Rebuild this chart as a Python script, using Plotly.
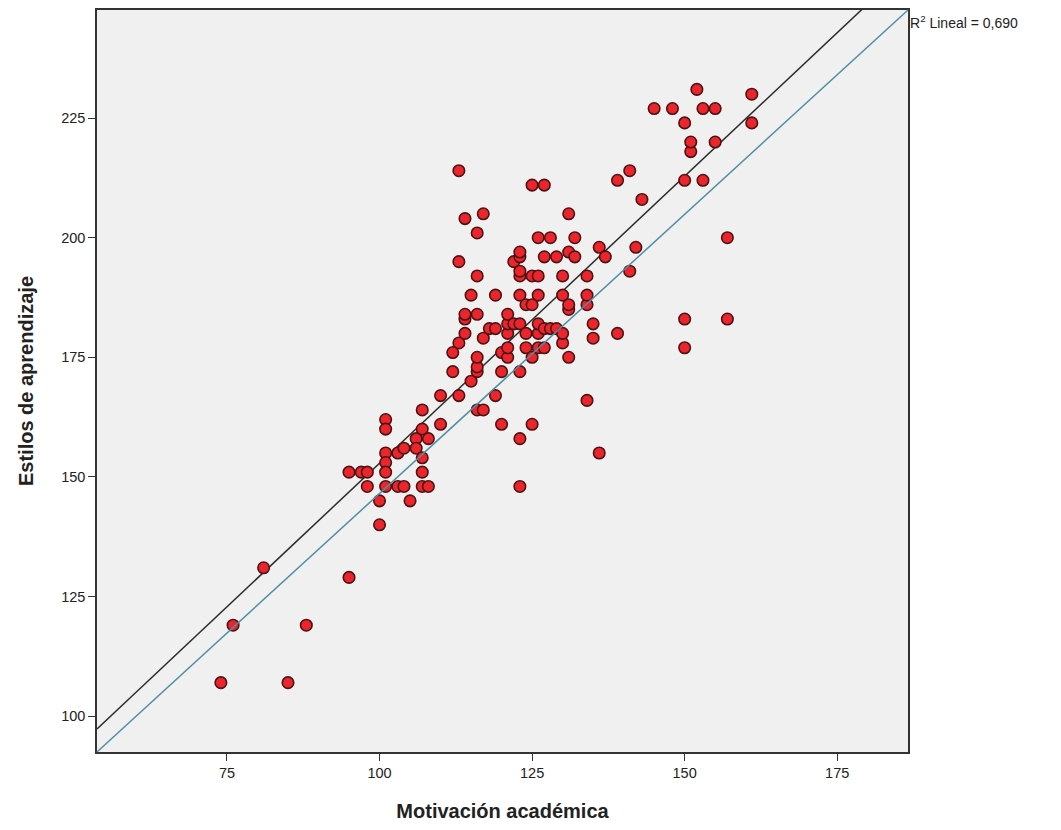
import numpy as np
import plotly.graph_objects as go

# Motivación académica (x) and Estilos de aprendizaje (y)
motivacion = [
    74, 76, 81, 85, 88, 95,
    95, 97, 98, 98, 100, 100, 101, 101, 101, 101, 101, 101, 103, 103, 104, 104, 105,
    106, 106, 107, 107, 107, 107, 107, 108, 108, 110, 110,
    113, 116, 117, 119, 115, 112, 116, 116, 116, 112, 113, 114, 114, 114, 116, 117,
    118, 119, 115, 119, 116, 113, 116, 114, 117, 113,
    120, 120, 120, 121, 121, 121, 121, 121, 122, 122, 123, 123, 123, 123, 123, 123,
    123, 123, 123, 124, 124, 124, 125, 125, 125, 125, 125, 126, 126, 126, 126, 126,
    126, 127, 127, 127, 127, 128, 128, 129, 129,
    130, 130, 130, 130, 131, 131, 131, 131, 131, 132, 132, 134, 134, 134, 134, 135,
    135, 136, 136, 137, 139, 139, 141, 141, 142, 143,
    145, 148, 150, 150, 150, 150, 151, 151, 152, 153, 153, 155, 155, 157, 157, 161, 161,
]
estilos = [
    107, 119, 131, 107, 119, 129,
    151, 151, 151, 148, 140, 145, 162, 160, 155, 153, 151, 148, 155, 148, 156, 148, 145,
    158, 156, 164, 160, 154, 151, 148, 158, 148, 167, 161,
    167, 164, 164, 167, 170, 172, 172, 173, 175, 176, 178, 180, 183, 184, 184, 179,
    181, 181, 188, 188, 192, 195, 201, 204, 205, 214,
    161, 172, 176, 175, 177, 180, 182, 184, 182, 195, 148, 158, 172, 182, 188, 192,
    193, 196, 197, 177, 180, 186, 161, 175, 186, 192, 211, 177, 180, 182, 188, 192,
    200, 177, 181, 196, 211, 181, 200, 181, 196,
    178, 180, 188, 192, 175, 185, 186, 197, 205, 196, 200, 166, 186, 188, 192, 179,
    182, 155, 198, 196, 180, 212, 193, 214, 198, 208,
    227, 227, 177, 183, 212, 224, 218, 220, 231, 212, 227, 220, 227, 183, 200, 224, 230,
]

x_ticks = [75, 100, 125, 150, 175]
y_ticks = [100, 125, 150, 175, 200, 225]
x_title = "Motivación académica"
y_title = "Estilos de aprendizaje"
r2_label = "R<sup>2</sup> Lineal = 0,690"

x_range = [53.7, 186.6]
y_range = [92.5, 247.6]

x = np.array(motivacion, dtype=float)
y = np.array(estilos, dtype=float)
slope, intercept = np.polyfit(x, y, 1)
fit_x = np.array(x_range)
fit_y = intercept + slope * fit_x

fig = go.Figure()

fig.add_trace(go.Scatter(
    x=fit_x, y=fit_y, mode="lines",
    line=dict(color="#2b2b2b", width=1.5),
    hoverinfo="skip", showlegend=False,
))

fig.add_trace(go.Scatter(
    x=motivacion, y=estilos, mode="markers",
    marker=dict(size=11.5, color="#ec252c", line=dict(color="#4a1414", width=1.6)),
    showlegend=False,
))

# reference diagonal across the plotting area
fig.add_shape(type="line", xref="x domain", yref="y domain",
              x0=0, y0=0, x1=1, y1=1,
              line=dict(color="#4f8ea3", width=1.5), layer="above")

fig.add_annotation(xref="paper", yref="paper", x=1.0, y=1.0,
                   xanchor="left", yanchor="top", xshift=0, yshift=-1,
                   text=r2_label, showarrow=False,
                   font=dict(family="Liberation Sans, Arial, sans-serif", size=14, color="#222"))

fig.update_layout(
    width=1045, height=814,
    margin=dict(l=89, r=145, t=2, b=70),
    paper_bgcolor="white",
    plot_bgcolor="#f0f0f0",
    font=dict(family="Liberation Sans, Arial, sans-serif", size=14, color="#222"),
)

fig.update_xaxes(
    range=x_range, tickvals=x_ticks, ticks="outside", ticklen=7, tickwidth=1.2,
    tickcolor="#333", showgrid=False, zeroline=False, automargin=False,
    showline=True, linecolor="#333", linewidth=1.5, mirror=True,
    tickfont=dict(size=14.5, color="#222"),
    title=dict(text="<b>" + x_title + "</b>", font=dict(size=20, color="#222"), standoff=31),
)
fig.update_yaxes(
    range=y_range, tickvals=y_ticks, ticks="outside", ticklen=7, tickwidth=1.2,
    tickcolor="#333", showgrid=False, zeroline=False, automargin=False,
    showline=True, linecolor="#333", linewidth=1.5, mirror=True,
    tickfont=dict(size=14.5, color="#222"),
    title=dict(text="<b>" + y_title + "</b>", font=dict(size=20, color="#222"), standoff=22),
)

fig.write_html("out.html")
